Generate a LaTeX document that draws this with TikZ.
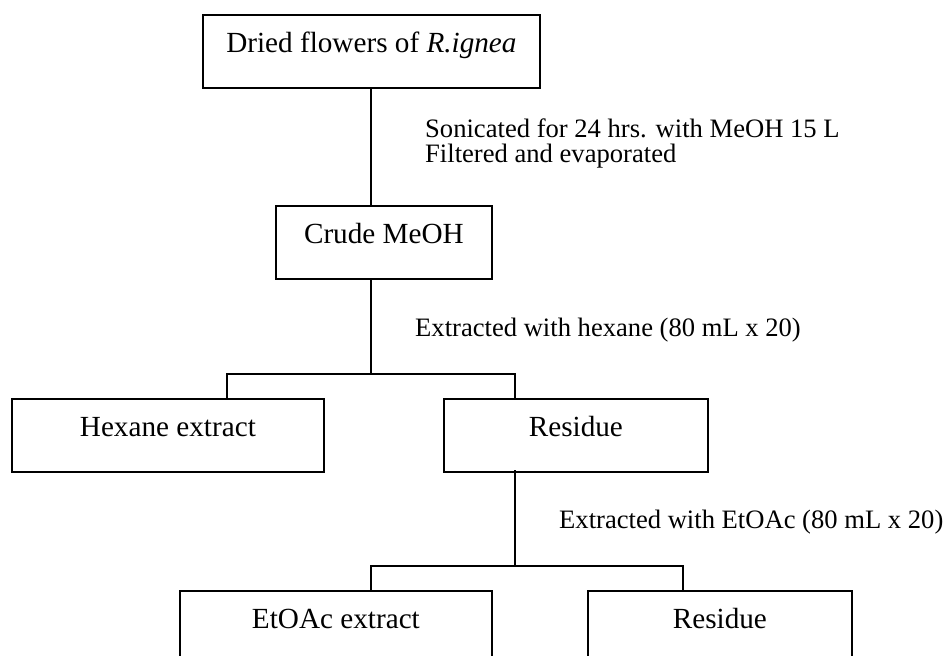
\documentclass[tikz,border=0pt]{standalone}
\usepackage{fontspec}
\setmainfont{Liberation Serif}
\begin{document}
\begin{tikzpicture}[x=1pt,y=-1pt,
  boxnode/.style={draw,line width=1.8pt,anchor=north west,inner xsep=0pt,inner ysep=0pt,
    text height=38pt,text depth=35pt,font=\fontsize{29.2}{32}\selectfont},
  conn/.style={line width=1.5pt},
  note/.style={anchor=base west,inner sep=0pt,align=left,font=\fontsize{26.6}{25}\selectfont}]
\useasboundingbox (0,0) rectangle (948,656);
\clip (0,0) rectangle (948,656);
\node[boxnode,minimum width=337pt] (b1) at (202,14) {Dried flowers of \textit{R.ignea}};
\node[boxnode,minimum width=216pt] (b2) at (275,205) {Crude MeOH};
\node[boxnode,minimum width=312pt] (b3) at (11,398) {Hexane extract};
\node[boxnode,minimum width=264pt] (b4) at (443,398) {Residue};
\node[boxnode,minimum width=312pt] (b5) at (179,590) {EtOAc extract};
\node[boxnode,minimum width=264pt] (b6) at (587,590) {Residue};
\coordinate (a1) at (371,87);
\coordinate (a2) at (371,278);
\coordinate (j1) at (371,374);
\coordinate (l1) at (227,374);
\coordinate (r1) at (515,374);
\coordinate (a3) at (515,470);
\coordinate (j2) at (515,566);
\coordinate (l2) at (371,566);
\coordinate (r2) at (683,566);
\draw[conn] (a1) -- (a1 |- b2.north);
\draw[conn] (a2) -- (j1);
\draw[conn] (l1 |- b3.north) -- (l1) -- (r1) -- (r1 |- b4.north);
\draw[conn] (a3) -- (j2);
\draw[conn] (l2 |- b5.north) -- (l2) -- (r2) -- (r2 |- b6.north);
\node[note] (n1) at (425,162) {Sonicated for 24 hrs. with MeOH 15 L\\Filtered and evaporated};
\node[note] (n3) at (415,336) {Extracted with hexane (80 mL x 20)};
\node[note] (n4) at (559,528) {Extracted with EtOAc (80 mL x 20)};
\end{tikzpicture}
\end{document}
